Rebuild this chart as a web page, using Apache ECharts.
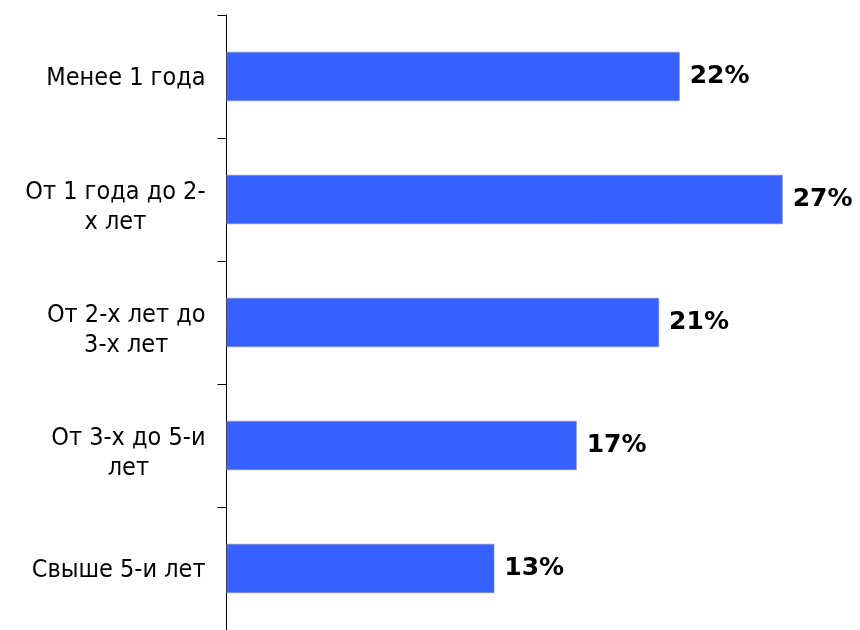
<!DOCTYPE html>
<html><head><meta charset="utf-8">
<script src="https://cdn.jsdelivr.net/npm/echarts@6/dist/echarts.min.js"></script>
<style>html,body{margin:0;padding:0;background:#fff}#c{width:860px;height:630px}</style>
</head><body><div id="c"></div>
<script>
var categories = ['Менее 1 года', 'От 1 года до 2-\nх лет', 'От 2-х лет до\n3-х лет', 'От 3-х до 5-и\nлет', 'Свыше 5-и лет'];
var values = [22, 27, 21, 17, 13];

var chart = echarts.init(document.getElementById('c'), null, {renderer: 'canvas'});
var font = "'DejaVu Sans Condensed', 'DejaVu Sans', sans-serif";
var boldFont = "'DejaVu Sans', sans-serif";
var catData = categories.map(function (c) {
  var multi = c.indexOf('\n') >= 0;
  return {value: c, textStyle: {padding: multi ? [16, 0, 0, 0] : [4, 0, 0, 0]}};
});
chart.setOption({
  animation: false,
  backgroundColor: '#fff',
  grid: {left: 226.5, right: 15.5, top: 15, bottom: -5, containLabel: false},
  xAxis: {type: 'value', min: 0, max: 30, show: false},
  yAxis: {
    type: 'category', inverse: true, data: catData,
    axisLine: {show: true, lineStyle: {color: '#000', width: 1}},
    axisTick: {show: true, length: 9, lineStyle: {color: '#000'}},
    axisLabel: {
      margin: 21, color: '#000', fontFamily: font, fontSize: 25, lineHeight: 30,
      formatter: function (v) { return v.split('\n').map(function (s) { return '{c|' + s + '}'; }).join('\n'); },
      rich: {c: {align: 'center', fontFamily: font, fontSize: 25, lineHeight: 30, color: '#000'}}
    },
    splitLine: {show: false}
  },
  series: [{
    type: 'bar', data: values, barWidth: '40%',
    itemStyle: {color: '#3660ff', borderColor: '#8a8fb0', borderWidth: 0.6},
    label: {show: true, position: 'right', distance: 10, formatter: '{c}%', color: '#000',
      fontFamily: boldFont, fontWeight: 'bold', fontSize: 25}
  }]
});
</script></body></html>
